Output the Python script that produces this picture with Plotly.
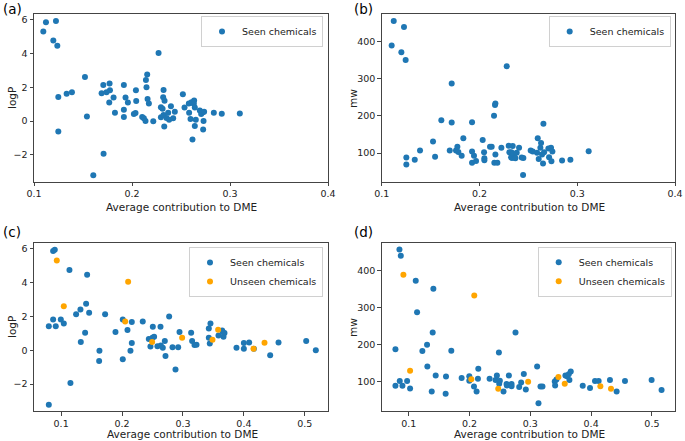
import plotly.graph_objects as go

# ---------------- data ----------------
# Panel (a): seen chemicals, average contribution to DME vs logP
a_x = [0.1095, 0.1122, 0.1224, 0.1197, 0.1238, 0.1248, 0.1248, 0.1333, 0.1387, 0.152,
       0.154, 0.1605, 0.169, 0.1707, 0.171, 0.174, 0.1768, 0.1771, 0.1775, 0.1812,
       0.1826, 0.1917, 0.1917, 0.1917, 0.1934, 0.1958, 0.2019, 0.2036, 0.204, 0.2043,
       0.2104, 0.2121, 0.2138, 0.2142, 0.2148, 0.2155, 0.2159, 0.2172, 0.2217, 0.2271,
       0.2295, 0.2295, 0.2312, 0.2318, 0.2322, 0.2329, 0.2332, 0.2322, 0.2352, 0.2369,
       0.2379, 0.2397, 0.242, 0.2437, 0.2519, 0.2536, 0.258, 0.2583, 0.2597, 0.2607,
       0.2617, 0.2617, 0.2634, 0.2631, 0.2641, 0.2641, 0.2651, 0.2692, 0.2706, 0.272,
       0.2726, 0.273, 0.2736, 0.2835, 0.2916, 0.31]
a_logp = [5.31, 5.86, 5.94, 4.78, 4.47, 1.43, -0.63, 1.61, 1.71, 2.61,
          0.27, -3.22, 1.65, 2.14, -1.94, 1.71, 1.10, 2.22, 1.82, 1.39,
          0.49, 2.14, 0.67, 0.24, 1.39, 1.10, 0.41, 0.47, 1.82, 1.18,
          0.24, 0.16, 0.0, 2.43, 2.0, 2.76, 1.31, 1.04, -0.02, 4.04,
          0.82, 0.22, 0.73, 1.41, 1.84, -0.33, 1.20, 0.35, 0.18, 0.49,
          0.08, 0.88, 0.16, 0.55, 1.59, 0.80, 1.04, 0.49, 0.12, 1.12,
          -1.10, 1.08, 1.22, 1.02, 0.80, -0.29, 0.08, 0.63, 0.41, 0.51,
          -0.51, 0.0, 0.55, 0.49, 0.43, 0.45]

# Panel (b): seen chemicals, average contribution to DME vs mw
b_x = [0.1102, 0.1123, 0.1228, 0.1201, 0.1245, 0.1252, 0.1252, 0.1338, 0.1392, 0.1525,
       0.1546, 0.161, 0.1716, 0.1716, 0.1696, 0.176, 0.1774, 0.1784, 0.1818, 0.1835,
       0.1924, 0.1924, 0.1924, 0.1944, 0.1965, 0.2033, 0.2047, 0.205, 0.205, 0.2108,
       0.2125, 0.2149, 0.2152, 0.2159, 0.2163, 0.2163, 0.2183, 0.2224, 0.2279, 0.2299,
       0.2306, 0.2323, 0.2326, 0.2333, 0.234, 0.2343, 0.236, 0.2367, 0.2381, 0.2405,
       0.2432, 0.2446, 0.2449, 0.2524, 0.2545, 0.2589, 0.2596, 0.2606, 0.2623, 0.263,
       0.264, 0.265, 0.2654, 0.2661, 0.2705, 0.2712, 0.2732, 0.2736, 0.2746, 0.2845,
       0.293, 0.3117]
b_mw = [389, 455, 439, 371, 350, 88, 69, 82, 107, 131,
        90, 188, 287, 182, 107, 107, 117, 103, 93, 140,
        104, 183, 74, 93, 79, 135, 102, 81, 86, 117,
        117, 200, 74, 229, 233, 96, 74, 114, 333, 120,
        102, 89, 102, 87, 119, 99, 88, 86, 101, 114,
        88, 41, 87, 107, 104, 101, 140, 84, 114, 127,
        96, 72, 179, 102, 112, 89, 114, 78, 104, 80,
        82, 105]

# Panel (c): average contribution to DME vs logP
c_seen_x = [0.0798, 0.0798, 0.0869, 0.0896, 0.0869, 0.0912, 0.0995, 0.1044, 0.1137, 0.1153,
            0.1246, 0.1317, 0.1323, 0.1394, 0.141, 0.1427, 0.146, 0.1629, 0.1624, 0.1722,
            0.1892, 0.2012, 0.2012, 0.2089, 0.2138, 0.216, 0.216, 0.234, 0.2439, 0.2466,
            0.2499, 0.2505, 0.2526, 0.2581, 0.2631, 0.2636, 0.2669, 0.2702, 0.2713, 0.2773,
            0.2828, 0.2877, 0.2921, 0.2943, 0.3134, 0.315, 0.3189, 0.3222, 0.3424, 0.3424,
            0.344, 0.3451, 0.3583, 0.3643, 0.3654, 0.3665, 0.3681, 0.3878, 0.3999, 0.3999,
            0.4086, 0.4163, 0.4431, 0.4568, 0.5022, 0.518]
c_seen_logp = [-3.22, 1.43, 5.88, 5.96, 1.82, 1.43, 1.82, 1.59, 4.76, -1.94,
               2.14, 2.41, 0.49, 1.04, 2.76, 4.47, 2.22, -0.02, -0.63, 2.14,
               1.08, 1.82, -0.53, 1.20, -0.02, 1.67, 0.43, 1.71, 0.67, 0.22,
               0.75, 1.39, 0.80, 0.24, 1.39, 0.29, 0.16, 0.55, -0.33, 2.0,
               0.18, -1.14, 0.18, 1.08, 1.04, 0.55, 0.31, 0.33, 0.75, 1.29,
               0.41, 1.59, 0.88, 1.18, 1.08, 0.80, 1.02, 0.16, 0.43, 0.10,
               0.47, 0.10, -0.29, 0.47, 0.55, 0.0]
c_unseen_x = [0.0929, 0.1044, 0.21, 0.2051, 0.2494, 0.2986, 0.3484, 0.3577, 0.4158, 0.4338]
c_unseen_logp = [5.31, 2.61, 4.06, 1.71, 0.49, 0.75, 0.63, 1.22, 0.10, 0.45]

# Panel (d): average contribution to DME vs mw
d_seen_x = [0.0781, 0.0781, 0.0847, 0.0852, 0.0869, 0.0896, 0.0973, 0.1022, 0.1115, 0.1137,
            0.1224, 0.1301, 0.1306, 0.1378, 0.1394, 0.1405, 0.1443, 0.1607, 0.1613, 0.17,
            0.187, 0.1996, 0.1996, 0.2073, 0.2116, 0.2138, 0.2144, 0.233, 0.2428, 0.245,
            0.2483, 0.2488, 0.2499, 0.2559, 0.2609, 0.2614, 0.2647, 0.2691, 0.2691, 0.2756,
            0.2817, 0.2849, 0.2893, 0.2926, 0.3112, 0.3134, 0.3167, 0.32, 0.3402, 0.3408,
            0.343, 0.3577, 0.3604, 0.3632, 0.3643, 0.3665, 0.3862, 0.3982, 0.4064, 0.4124,
            0.431, 0.442, 0.4557, 0.4995, 0.5159]
d_seen_mw = [187, 88, 456, 101, 439, 88, 101, 81, 372, 287,
             182, 199, 140, 73, 232, 350, 116, 67, 113, 183,
             109, 114, 102, 86, 73, 107, 134, 107, 104, 116,
             178, 94, 102, 73, 93, 89, 116, 93, 87, 232,
             85, 97, 120, 78, 140, 41, 86, 86, 100, 89,
             105, 116, 114, 119, 104, 127, 88, 82, 101, 101,
             104, 73, 101, 104, 77]
d_unseen_x = [0.0912, 0.1022, 0.2029, 0.2078, 0.2472, 0.2964, 0.3462, 0.3566, 0.4152, 0.4327]
d_unseen_mw = [388, 129, 106, 332, 80, 99, 112, 94, 87, 80]

x_ticks_ab = [0.1, 0.2, 0.3, 0.4]
x_ticks_cd = [0.1, 0.2, 0.3, 0.4, 0.5]
logp_ticks = [-2, 0, 2, 4, 6]
mw_ticks = [100, 200, 300, 400]

panel_labels = ["(a)", "(b)", "(c)", "(d)"]
x_title = "Average contribution to DME"
seen_name = "Seen chemicals"
unseen_name = "Unseen chemicals"

# ---------------- figure ----------------
W, H = 685, 441
BLUE = "#1f77b4"
ORANGE = "orange"
FONT = "DejaVu Sans"
TICK_SIZE = 9.5
TITLE_SIZE = 10.5

def px_x(p):
    return p / W

def px_y(p):
    return 1 - p / H

fig = go.Figure()

def add(x, y, name, color, n, legend, showleg=True):
    fig.add_trace(go.Scatter(
        x=x, y=y, mode="markers", name=name,
        marker=dict(color=color, size=6, line=dict(width=0)),
        xaxis="x" if n == 1 else f"x{n}", yaxis="y" if n == 1 else f"y{n}",
        legend=legend, showlegend=showleg))

add(a_x, a_logp, seen_name, BLUE, 1, "legend")
add(b_x, b_mw, seen_name, BLUE, 2, "legend2")
add(c_seen_x, c_seen_logp, seen_name, BLUE, 3, "legend3")
add(c_unseen_x, c_unseen_logp, unseen_name, ORANGE, 3, "legend3")
add(d_seen_x, d_seen_mw, seen_name, BLUE, 4, "legend4")
add(d_unseen_x, d_unseen_mw, unseen_name, ORANGE, 4, "legend4")

ax_common = dict(showgrid=False, zeroline=False, showline=True, mirror=True,
                 linecolor="#444", linewidth=1, ticks="outside", ticklen=3.5,
                 tickcolor="#444", tickwidth=1,
                 tickfont=dict(family=FONT, size=TICK_SIZE, color="#222"), automargin=False)

xdom_l = [px_x(34), px_x(328)]
xdom_r = [px_x(381.7), px_x(675)]
ydom_t = [px_y(181.5), px_y(14)]
ydom_b = [px_y(411), px_y(242.7)]

layout = dict(
    width=W, height=H, margin=dict(l=0, r=0, t=0, b=0),
    paper_bgcolor="white", plot_bgcolor="white",
    font=dict(family=FONT, size=TICK_SIZE, color="#222"),
    xaxis=dict(ax_common, domain=xdom_l, range=[0.1, 0.4], tickvals=x_ticks_ab, anchor="y"),
    yaxis=dict(ax_common, domain=ydom_t, range=[-3.59, 6.35], tickvals=logp_ticks, anchor="x"),
    xaxis2=dict(ax_common, domain=xdom_r, range=[0.1, 0.4], tickvals=x_ticks_ab, anchor="y2"),
    yaxis2=dict(ax_common, domain=ydom_t, range=[23.6, 473.7], tickvals=mw_ticks, anchor="x2"),
    xaxis3=dict(ax_common, domain=xdom_l, range=[0.0555, 0.538], tickvals=x_ticks_cd, anchor="y3"),
    yaxis3=dict(ax_common, domain=ydom_b, range=[-3.59, 6.37], tickvals=logp_ticks, anchor="x3"),
    xaxis4=dict(ax_common, domain=xdom_r, range=[0.0555, 0.538], tickvals=x_ticks_cd, anchor="y4"),
    yaxis4=dict(ax_common, domain=ydom_b, range=[20.1, 474.5], tickvals=mw_ticks, anchor="x4"),
)

leg_common = dict(xanchor="right", yanchor="top", bgcolor="white",
                  bordercolor="#d0d0d0", borderwidth=1,
                  font=dict(family=FONT, size=TICK_SIZE, color="#222"),
                  itemwidth=30, tracegroupgap=0)
layout["legend"] = dict(leg_common, x=px_x(323), y=px_y(16))
layout["legend2"] = dict(leg_common, x=px_x(670.7), y=px_y(16))
layout["legend3"] = dict(leg_common, x=px_x(323), y=px_y(247))
layout["legend4"] = dict(leg_common, x=px_x(671.7), y=px_y(246.7))

fig.update_layout(**layout)

ann = []
# panel labels
for lab, (x, y) in zip(panel_labels, [(1, 9), (352, 9), (1, 232), (352, 232)]):
    ann.append(dict(text=lab, x=px_x(x), y=px_y(y), xref="paper", yref="paper",
                    xanchor="left", yanchor="middle", showarrow=False,
                    font=dict(family=FONT, size=13.5, color="black")))
# x axis titles
for cx, cy in [(181, 206.5), (529, 206.5), (182, 434), (529, 434)]:
    ann.append(dict(text=x_title, x=px_x(cx), y=px_y(cy), xref="paper", yref="paper",
                    xanchor="center", yanchor="middle", showarrow=False,
                    font=dict(family=FONT, size=TITLE_SIZE, color="#222")))
# y axis titles
for t, cx, cy in [("logP", 12, 98), ("mw", 353, 98), ("logP", 12, 327), ("mw", 353, 327)]:
    ann.append(dict(text=t, x=px_x(cx), y=px_y(cy), xref="paper", yref="paper",
                    xanchor="center", yanchor="middle", showarrow=False, textangle=-90,
                    font=dict(family=FONT, size=TITLE_SIZE, color="#222")))
fig.update_layout(annotations=ann)

fig.write_html("out.html", config={"displayModeBar": False},
               post_script="document.body.style.margin='0';document.body.style.overflow='hidden';")
